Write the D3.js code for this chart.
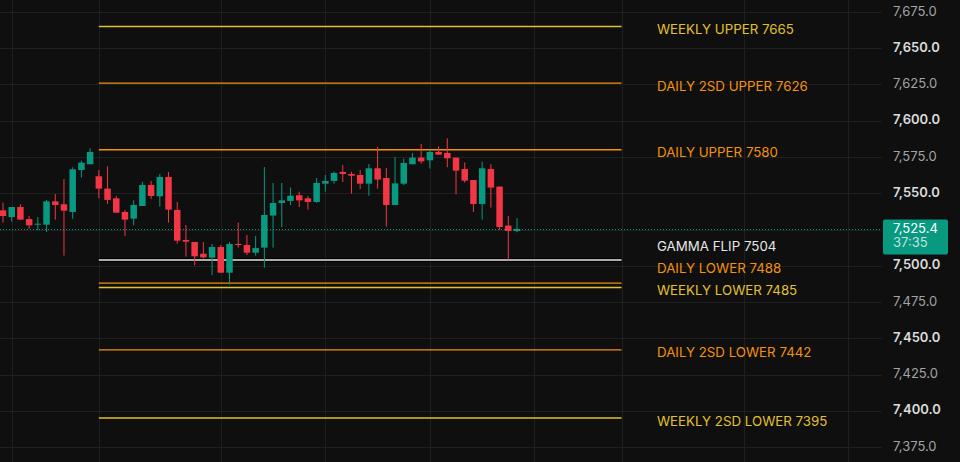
<!DOCTYPE html>
<html>
<head>
<meta charset="utf-8">
<script src="https://cdn.jsdelivr.net/npm/d3@7"></script>
<style>
  html, body { margin: 0; padding: 0; background: #0f0f0f; }
  svg { display: block; }
</style>
</head>
<body>
<svg id="chart" width="960" height="462"></svg>
<script>
// candles (oldest -> newest)
var opens  = [7538.2,7533.6,7540.5,7532.2,7528.6,7528.3,7544.4,7542.4,7537.1,7566.0,
              7570.0,7561.7,7553.2,7546.5,7537.1,7532.5,7541.2,7555.7,7547.9,7561.2,
              7538.5,7517.8,7516.4,7508.3,7505.6,7512.9,7495.2,7515.0,7514.3,7509.0,
              7512.5,7534.6,7543.3,7544.7,7548.6,7546.5,7544.0,7556.6,7558.5,7564.7,
              7563.3,7562.6,7556.6,7567.2,7560.5,7541.9,7556.6,7570.0,7574.6,7572.7,
              7578.5,7577.8,7574.6,7566.7,7559.1,7542.6,7566.7,7554.6,7527.7,7523.9];
var highs  = [7543.5,7540.5,7542.4,7534.3,7533.6,7545.4,7549.5,7559.8,7567.9,7572.5,
              7581.0,7566.0,7568.6,7548.1,7538.5,7545.1,7557.8,7558.5,7563.3,7564.7,
              7544.0,7528.1,7516.4,7516.4,7515.0,7514.3,7516.4,7529.7,7521.2,7520.5,
              7568.1,7557.1,7557.1,7553.9,7551.1,7548.1,7560.5,7562.6,7564.9,7569.5,
              7564.9,7566.0,7570.2,7581.9,7567.4,7574.8,7573.9,7577.8,7584.0,7579.6,
              7582.4,7587.9,7574.6,7571.3,7559.1,7571.8,7570.0,7554.6,7534.3,7532.9];
var lows   = [7529.7,7530.4,7531.8,7525.4,7524.4,7523.3,7531.8,7507.0,7532.5,7560.8,
              7570.0,7546.5,7542.6,7536.6,7520.5,7527.9,7541.2,7546.0,7540.8,7529.7,
              7515.2,7506.3,7500.3,7505.1,7493.6,7495.2,7487.0,7512.5,7507.4,7507.0,
              7498.7,7512.5,7526.7,7541.9,7540.5,7538.7,7543.3,7551.1,7556.6,7557.8,
              7549.7,7552.9,7548.3,7553.2,7527.0,7541.9,7555.7,7570.0,7570.4,7567.0,
              7576.6,7567.9,7549.3,7557.3,7537.1,7531.8,7540.1,7524.7,7504.2,7523.1];
var closes = [7534.3,7540.5,7531.8,7527.9,7529.0,7544.4,7541.9,7538.0,7566.5,7571.1,
              7578.5,7553.2,7545.4,7536.6,7531.8,7541.9,7555.7,7548.1,7561.2,7538.7,
              7517.3,7516.6,7506.5,7505.8,7512.9,7495.2,7515.0,7514.3,7509.0,7512.2,
              7535.0,7543.3,7545.1,7548.3,7545.1,7544.0,7557.1,7558.5,7564.0,7563.3,
              7562.1,7556.6,7567.2,7559.4,7541.9,7556.8,7570.9,7574.6,7572.0,7578.5,
              7576.6,7574.1,7565.6,7558.7,7542.6,7567.2,7553.9,7526.7,7524.0,7525.4];

// key levels
var levelNames  = ["WEEKLY UPPER", "DAILY 2SD UPPER", "DAILY UPPER", "GAMMA FLIP",
                   "DAILY LOWER", "WEEKLY LOWER", "DAILY 2SD LOWER", "WEEKLY 2SD LOWER"];
var levelValues = [7665, 7626, 7580, 7504, 7488, 7485, 7442, 7395];
var levelKinds  = ["weekly", "daily", "daily", "gamma", "daily", "weekly", "daily", "weekly"];

// price axis ticks
var priceTicks = [7375, 7400, 7425, 7450, 7475, 7500, 7525, 7550, 7575, 7600, 7625, 7650, 7675];
// time grid (bar index)
var timeGrid = [1, 11, 25, 37, 49, 61, 71, 85, 97];
var levelSpan = [11, 71];
var lastPrice = 7525.4;
var countdown = "37:35";

var W = 960, H = 462, plotRight = 882;
var green = "#089981", red = "#f23645";
var kindColor = { weekly: "#e3c02e", daily: "#f5910c", gamma: "#e6e6e6" };

var svg = d3.select("#chart");
svg.append("rect").attr("width", W).attr("height", H).attr("fill", "#0f0f0f");

var x = d3.scaleLinear().domain([0, opens.length - 1]).range([3, 517]);
var y = d3.scaleLinear().domain([7375, 7675]).range([447, 12]);

// grid
var grid = svg.append("g");
grid.selectAll(".hg").data(priceTicks).enter().append("line")
  .attr("x1", 0).attr("x2", plotRight)
  .attr("y1", function(d) { return Math.round(y(d)) + 0.5; })
  .attr("y2", function(d) { return Math.round(y(d)) + 0.5; })
  .attr("stroke", "#1f1f1f").attr("stroke-width", 1);
grid.selectAll(".vg").data(timeGrid).enter().append("line")
  .attr("y1", 0).attr("y2", H)
  .attr("x1", function(d) { return Math.round(x(d)) + 0.5; })
  .attr("x2", function(d) { return Math.round(x(d)) + 0.5; })
  .attr("stroke", "#1f1f1f").attr("stroke-width", 1);

// levels
var lv = svg.append("g");
levelValues.forEach(function(v, i) {
  var yy = y(v);
  var col = kindColor[levelKinds[i]];
  if (levelKinds[i] === "gamma") {
    lv.append("line").attr("x1", x(levelSpan[0])).attr("x2", x(levelSpan[1]))
      .attr("y1", yy).attr("y2", yy).attr("stroke", "#000").attr("stroke-width", 3.5);
  }
  lv.append("line")
    .attr("x1", x(levelSpan[0])).attr("x2", x(levelSpan[1]))
    .attr("y1", yy).attr("y2", yy)
    .attr("stroke", col)
    .attr("stroke-width", levelKinds[i] === "gamma" ? 1.6 : 1.3);
});

// label placement: keep labels 22px apart, pushing upward
var labelY = levelValues.map(function(v) { return y(v) + 4; });
for (var i = labelY.length - 2; i >= 0; i--) {
  if (labelY[i + 1] - labelY[i] < 22) labelY[i] = labelY[i + 1] - 22;
}
lv.selectAll("text").data(levelNames).enter().append("text")
  .attr("x", 657)
  .attr("y", function(d, i) { return labelY[i]; })
  .attr("dominant-baseline", "middle")
  .attr("fill", function(d, i) { return kindColor[levelKinds[i]]; })
  .style("font-family", "Inter, 'Noto Sans', sans-serif")
  .style("font-size", "13.3px")
  .text(function(d, i) { return d + " " + levelValues[i]; });

// current price line
svg.append("line")
  .attr("x1", 0).attr("x2", plotRight)
  .attr("y1", Math.round(y(lastPrice)) + 0.5).attr("y2", Math.round(y(lastPrice)) + 0.5)
  .attr("stroke", green).attr("stroke-width", 1).attr("stroke-dasharray", "1,2");

// candles
var candles = svg.append("g").selectAll("g").data(opens).enter().append("g");
candles.append("line")
  .attr("x1", function(d, i) { return x(i); })
  .attr("x2", function(d, i) { return x(i); })
  .attr("y1", function(d, i) { return y(highs[i]); })
  .attr("y2", function(d, i) { return y(lows[i]); })
  .attr("stroke", function(d, i) { return closes[i] >= opens[i] ? green : red; })
  .attr("stroke-width", 1);
candles.append("rect")
  .attr("x", function(d, i) { return x(i) - 3.25; })
  .attr("width", 6.5)
  .attr("y", function(d, i) { return y(Math.max(opens[i], closes[i])); })
  .attr("height", function(d, i) { return Math.max(1, Math.abs(y(opens[i]) - y(closes[i]))); })
  .attr("fill", function(d, i) { return closes[i] >= opens[i] ? green : red; });

// price axis
var fmt = d3.format(",.1f");
svg.append("g").selectAll("text").data(priceTicks).enter().append("text")
  .attr("x", 893)
  .attr("y", function(d) { return y(d); })
  .attr("dominant-baseline", "middle")
  .attr("fill", function(d) { return d % 50 === 0 ? "#dcdcdc" : "#a3a3a3"; })
  .style("font-weight", function(d) { return d % 50 === 0 ? 600 : 400; })
  .style("font-family", "Inter, 'Noto Sans', sans-serif")
  .style("font-size", "13px")
  .text(function(d) { return fmt(d); });

// last price tag
var tagY = y(lastPrice);
var tag = svg.append("g");
tag.append("rect").attr("x", 883).attr("y", tagY - 9.5).attr("width", 65).attr("height", 35)
  .attr("rx", 2).attr("fill", green);
tag.append("text").attr("x", 893).attr("y", tagY + 0.5)
  .attr("dominant-baseline", "middle").attr("fill", "#ffffff")
  .style("font-family", "Inter, 'Noto Sans', sans-serif").style("font-size", "13px")
  .text(fmt(lastPrice));
tag.append("text").attr("x", 893).attr("y", tagY + 15)
  .attr("dominant-baseline", "middle").attr("fill", "#ffffff").attr("fill-opacity", 0.75)
  .style("font-family", "Inter, 'Noto Sans', sans-serif").style("font-size", "13px")
  .text(countdown);
</script>
</body>
</html>
